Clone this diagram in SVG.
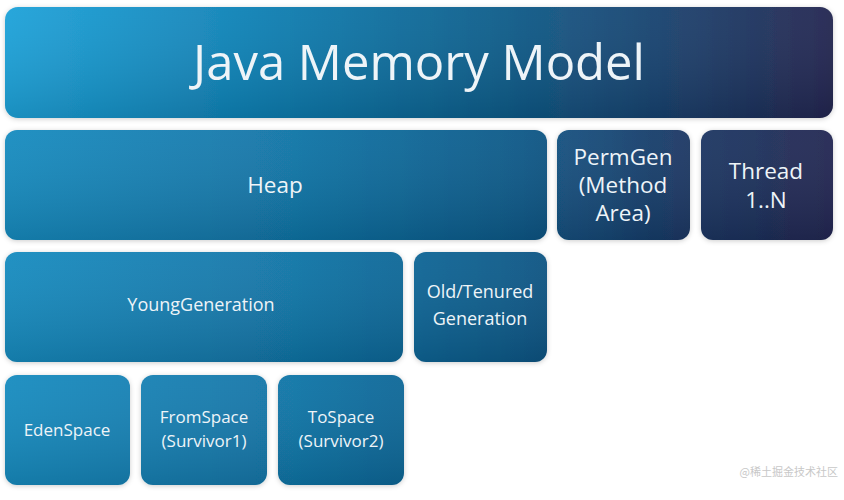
<svg xmlns="http://www.w3.org/2000/svg" width="844" height="500" viewBox="0 0 844 500">
<defs>
<linearGradient id="g" gradientUnits="userSpaceOnUse" x1="0" y1="0" x2="844" y2="0">
<stop offset="0" stop-color="#1ea3da"/>
<stop offset="0.3" stop-color="#0f80b4"/>
<stop offset="0.55" stop-color="#0b6290"/>
<stop offset="0.75" stop-color="#174673"/>
<stop offset="1" stop-color="#24244e"/>
</linearGradient>
<linearGradient id="g2" gradientUnits="userSpaceOnUse" x1="0" y1="0" x2="844" y2="0">
<stop offset="0" stop-color="#188cc0"/>
<stop offset="0.35" stop-color="#1174a6"/>
<stop offset="0.62" stop-color="#0f5887"/>
<stop offset="0.8" stop-color="#1a3966"/>
<stop offset="1" stop-color="#232650"/>
</linearGradient>
<linearGradient id="v" x1="0" y1="0" x2="0" y2="1">
<stop offset="0" stop-color="#ffffff" stop-opacity="0.05"/>
<stop offset="1" stop-color="#000000" stop-opacity="0.12"/>
</linearGradient>
<filter id="sh" x="-10%" y="-10%" width="120%" height="130%">
<feDropShadow dx="0" dy="1" stdDeviation="2.5" flood-color="#000" flood-opacity="0.2"/>
</filter>
</defs>
<style>
.a{fill:url(#g);filter:url(#sh)}
.b{fill:url(#g2);filter:url(#sh)}
.o{fill:url(#v)}
text{font-family:"Open Sans","DejaVu Sans",sans-serif;fill:#eef4f8;text-anchor:middle}
.t{font-size:49px}
.m{font-size:22.5px}
.s{font-size:18px}
.x{font-size:17px}
.w{font-family:"Noto Sans CJK SC",sans-serif;font-size:11px;fill:#c8c8c8;text-anchor:end}
</style>
<rect width="844" height="500" fill="#ffffff"/>
<g id="title"><rect class="a" x="5" y="7" width="828" height="111" rx="13"/><rect class="o" x="5" y="7" width="828" height="111" rx="13"/><text class="t" x="419" y="80">Java Memory Model</text></g>
<g id="heap"><rect class="b" x="5" y="130" width="542" height="110" rx="12"/><rect class="o" x="5" y="130" width="542" height="110" rx="12"/><text class="m" x="275" y="193">Heap</text></g>
<g id="permgen"><rect class="b" x="557" y="130" width="133" height="110" rx="12"/><rect class="o" x="557" y="130" width="133" height="110" rx="12"/><text class="m" x="623" y="165">PermGen</text><text class="m" x="623" y="193">(Method</text><text class="m" x="623" y="221">Area)</text></g>
<g id="thread"><rect class="b" x="701" y="130" width="132" height="110" rx="12"/><rect class="o" x="701" y="130" width="132" height="110" rx="12"/><text class="m" x="766" y="179">Thread</text><text class="m" x="766" y="208">1..N</text></g>
<g id="young"><rect class="b" x="5" y="252" width="398" height="110" rx="12"/><rect class="o" x="5" y="252" width="398" height="110" rx="12"/><text class="s" x="201" y="311">YoungGeneration</text></g>
<g id="old"><rect class="b" x="414" y="252" width="133" height="110" rx="12"/><rect class="o" x="414" y="252" width="133" height="110" rx="12"/><text class="s" x="480" y="298">Old/Tenured</text><text class="s" x="480" y="325">Generation</text></g>
<g id="eden"><rect class="b" x="5" y="375" width="125" height="110" rx="12"/><rect class="o" x="5" y="375" width="125" height="110" rx="12"/><text class="x" x="67" y="436">EdenSpace</text></g>
<g id="from"><rect class="b" x="141" y="375" width="126" height="110" rx="12"/><rect class="o" x="141" y="375" width="126" height="110" rx="12"/><text class="x" x="204" y="423">FromSpace</text><text class="x" x="204" y="447">(Survivor1)</text></g>
<g id="to"><rect class="b" x="278" y="375" width="126" height="110" rx="12"/><rect class="o" x="278" y="375" width="126" height="110" rx="12"/><text class="x" x="341" y="423">ToSpace</text><text class="x" x="341" y="447">(Survivor2)</text></g>
<g id="connectors"/>
<text class="w" x="838" y="476">@稀土掘金技术社区</text>
</svg>
